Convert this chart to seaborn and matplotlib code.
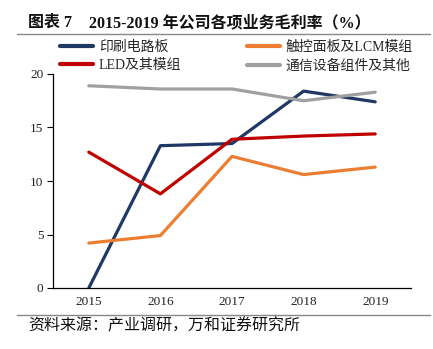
import matplotlib
matplotlib.use("Agg")
import matplotlib.pyplot as plt
from matplotlib.lines import Line2D
import seaborn as sns
import pandas as pd

years = ["2015", "2016", "2017", "2018", "2019"]
series_names = ["印刷电路板", "触控面板及LCM模组", "LED及其模组", "通信设备组件及其他"]
pcb = [0.0, 13.3, 13.5, 18.4, 17.4]
touch_lcm = [4.2, 4.9, 12.3, 10.6, 11.3]
led = [12.7, 8.8, 13.9, 14.2, 14.4]
telecom = [18.9, 18.6, 18.6, 17.5, 18.3]
colors = ["#1F3864", "#ED7D31", "#C00000", "#A0A0A0"]

sns.set_theme(style="white")
plt.rcParams["font.family"] = ["Liberation Serif", "Noto Sans CJK SC", "DejaVu Sans"]
plt.rcParams["axes.unicode_minus"] = False

rows = []
for name, vals in zip(series_names, [pcb, touch_lcm, led, telecom]):
    for y, v in zip(years, vals):
        rows.append({"year": y, "value": v, "series": name})
df = pd.DataFrame(rows)

fig = plt.figure(figsize=(4.33, 3.49), dpi=100)
ax = fig.add_axes([53/433, 1-288/349, (411-53)/433, (288-74)/349])

sns.lineplot(data=df, x="year", y="value", hue="series", hue_order=series_names,
             palette=colors, linewidth=2.3, ax=ax, legend=False, sort=False)

ax.set_xlim(-0.5, 4.5)
ax.set_ylim(0, 20)
ax.set_yticks([0, 5, 10, 15, 20])
ax.set_xticks(range(5))
ax.set_xticklabels(years)
ax.set_xticks([i - 0.5 for i in range(6)], minor=True)
ax.tick_params(axis="x", which="major", length=0, labelsize=9.5, pad=6, colors="#222222")
ax.tick_params(axis="x", which="minor", direction="in", length=4, width=0.8, color="black")
ax.tick_params(axis="y", which="major", direction="out", length=4, width=0.8, labelsize=9.5,
               pad=3, color="black", left=True, labelcolor="#222222")
ax.set_xlabel("")
ax.set_ylabel("")
for s in ["top", "right"]:
    ax.spines[s].set_visible(False)
for s in ["left", "bottom"]:
    ax.spines[s].set_color("black")
    ax.spines[s].set_linewidth(0.9)
ax.grid(False)

# legend: column-wise fill -> row1: series 0,1 ; row2: series 2,3
order = [0, 2, 1, 3]
handles = [Line2D([0], [0], color=colors[i], lw=3) for i in order]
labels = [series_names[i] for i in order]
fig.legend(handles, labels, loc="upper left", bbox_to_anchor=(60/433, 1-41/349),
           ncol=2, frameon=False, fontsize=10, handlelength=2.4, handletextpad=0.4,
           columnspacing=4.7, labelspacing=0.35, borderaxespad=0, borderpad=0)

fig.text(28/433, 1-23/349, "图表 7", fontsize=11.5,
         fontweight="bold", va="center", ha="left", color="#111111")
fig.text(89/433, 1-23/349, "2015-2019 年公司各项业务毛利率（%）", fontsize=11.5,
         fontweight="bold", va="center", ha="left", color="#111111")
fig.add_artist(Line2D([17/433, 430/433], [1-34/349, 1-34/349], color="#888888", lw=1.0))
fig.add_artist(Line2D([17/433, 430/433], [1-315/349, 1-315/349], color="#888888", lw=1.0))
fig.text(28/433, 1-326/349, "资料来源：产业调研，万和证券研究所", fontsize=11.5,
         va="center", ha="left", color="#111111")

fig.savefig("out.png", dpi=100)
